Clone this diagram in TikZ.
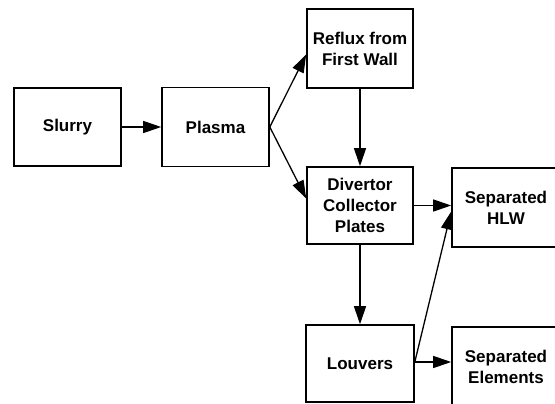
\documentclass[tikz,border=0pt]{standalone}
\usepackage{fontspec}
\setmainfont{Liberation Sans}
\usetikzlibrary{arrows.meta,calc}
\tikzset{
  box/.style={draw=black, line width=1.6pt, fill=white, align=center, inner sep=0pt,
    font=\bfseries\fontsize{17}{21}\selectfont},
  conn/.style={draw=black, line width=1.3pt, -{Triangle[length=18pt,width=12pt]}}
}
\begin{document}
\begin{tikzpicture}[x=1pt,y=-1pt]
\useasboundingbox (0,0) rectangle (555,404);
\fill[white] (0,0) rectangle (555,404);
\node[box, minimum width=107pt, minimum height=78pt] (slurry) at (67.5,127) {Slurry};
\node[box, minimum width=107pt, minimum height=79pt] (plasma) at (215.5,127) {Plasma};
\node[box, minimum width=106pt, minimum height=79pt] (reflux) at (360,48.5) {Reflux from\\First Wall};
\node[box, minimum width=106pt, minimum height=77pt] (divertor) at (360,205.5) {Divertor\\Collector\\Plates};
\node[box, minimum width=108pt, minimum height=79pt] (hlw) at (506,207.5) {Separated\\HLW};
\node[box, minimum width=108pt, minimum height=77pt] (louvers) at (360,363.5) {Louvers};
\node[box, minimum width=108pt, minimum height=79pt] (elements) at (506,366.5) {Separated\\Elements};
\draw[conn] (slurry.east) -- (plasma.west);
\draw[conn] (plasma.east) -- ($(reflux.west)+(0,6)$);
\draw[conn] (plasma.east) -- ($(divertor.west)+(0,-7)$);
\draw[conn] (reflux.south) -- (divertor.north);
\draw[conn] (divertor.east) -- (divertor.east -| hlw.west);
\draw[conn] (divertor.south) -- (louvers.north);
\draw[conn] ($(louvers.east)+(0,-1.5)$) -- ($(hlw.west)+(0,4)$);
\draw[conn] ($(louvers.east)+(0,-1.5)$) -- ($(louvers.east -| elements.west)+(0,-1.5)$);
\end{tikzpicture}
\end{document}
